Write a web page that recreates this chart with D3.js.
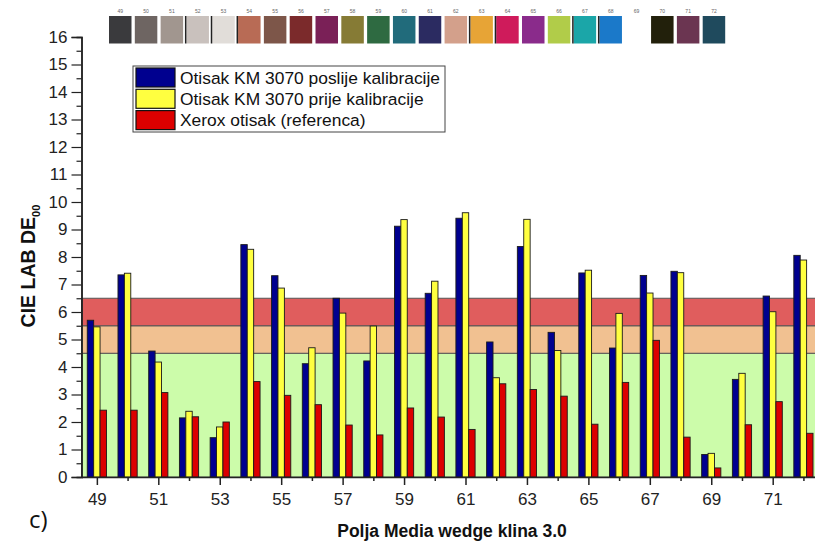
<!DOCTYPE html>
<html>
<head>
<meta charset="utf-8">
<script src="https://cdn.jsdelivr.net/npm/d3@7"></script>
<style>
  body { margin: 0; background: #fff; }
  svg { display: block; font-family: "Liberation Sans", Arial, sans-serif; }
  .axis path, .axis line { stroke: #222; }
  .axis text { font-size: 17px; fill: #222; }
</style>
</head>
<body>
<svg id="chart" width="815" height="544"></svg>
<script>

// fields of the Media wedge 3.0 strip shown on the x axis
const fields = d3.range(49, 73);

// measured colour differences per field, one array per print
const afterCalibration  = [5.7, 7.35, 4.58, 2.15, 1.43, 8.45, 7.32, 4.12, 6.5, 4.22, 9.12, 6.68,
                           9.41, 4.91, 8.38, 5.26, 7.42, 4.69, 7.33, 7.48, 0.82, 3.55, 6.58, 8.06];
const beforeCalibration = [5.46, 7.41, 4.18, 2.39, 1.82, 8.28, 6.87, 4.7, 5.96, 5.49, 9.36, 7.12,
                           9.61, 3.61, 9.37, 4.6, 7.52, 5.95, 6.69, 7.43, 0.86, 3.77, 6.01, 7.89];
const xeroxReference    = [2.43, 2.43, 3.07, 2.19, 2.0, 3.47, 2.97, 2.63, 1.89, 1.53, 2.51, 2.18,
                           1.73, 3.39, 3.18, 2.94, 1.92, 3.44, 4.97, 1.45, 0.33, 1.9, 2.74, 1.59];

const seriesNames = ["Otisak KM 3070 poslije kalibracije",
                     "Otisak KM 3070 prije kalibracije",
                     "Xerox otisak (referenca)"];
const seriesColors = ["#00008f", "#ffff40", "#dc0000"];

// tolerance bands drawn behind the bars (lower, upper DE00 limit)
const bandLimits = [[0, 4.5], [4.5, 5.5], [5.5, 6.5]];
const bandColors = ["#ccfcaa", "#f1c191", "#e05d5d"];

// printed swatch of each wedge field (69 is paper white)
const fieldColors = ["#3a3a3d", "#6e6562", "#a1968f", "#c9c1bd", "#e1ddd9", "#b86b55", "#7d5649",
                     "#7b2a2b", "#7a2057", "#867b35", "#2e6a41", "#216b7b", "#2b2b61", "#d3a08b",
                     "#e7a436", "#cf1b5b", "#8a2b8b", "#b1cc49", "#1ba6a8", "#1b79c9", null,
                     "#22200b", "#6b3551", "#1f4a5d"];
// fields whose swatch shows a dark seam on its left side in the scan
const seamFields = [52, 53, 54, 63, 64, 67, 68];

const yTicks = d3.range(0, 17);
const xTicks = d3.range(49, 73, 2);

let svg = d3.select("#chart");

let margin = { left: 81.5, top: 37, bottom: 477 };

// continuous field scale, the plot runs off the right edge like the source scan
let x = d3.scaleLinear()
    .domain([48.5, 72.5])
    .range([margin.left, margin.left + 24 * 30.72]);
let y = d3.scaleLinear()
    .domain([0, 16])
    .range([margin.bottom, margin.top]);

// three bars per field, centred on the tick
let inner = d3.scaleBand()
    .domain(d3.range(3))
    .range([-9.6, 9.6]);

let table = fields.map(function(f, i) {
    return { field: f, values: [afterCalibration[i], beforeCalibration[i], xeroxReference[i]] };
});

// tolerance bands
svg.append("g")
    .attr("class", "bands")
    .selectAll("rect")
    .data(bandLimits)
    .enter().append("rect")
        .attr("x", margin.left)
        .attr("width", 820 - margin.left)
        .attr("y", function(d) { return y(d[1]); })
        .attr("height", function(d) { return y(d[0]) - y(d[1]); })
        .attr("fill", function(d, i) { return bandColors[i]; })
        .attr("stroke", "#555")
        .attr("stroke-width", 1);

// bars
let groups = svg.append("g")
    .attr("class", "bars")
    .selectAll("g")
    .data(table)
    .enter().append("g")
        .attr("transform", function(d) { return "translate(" + x(d.field) + ",0)"; });

groups.selectAll("rect")
    .data(function(d) { return d.values; })
    .enter().append("rect")
        .attr("x", function(d, i) { return inner(i); })
        .attr("width", inner.bandwidth())
        .attr("y", function(d) { return y(d); })
        .attr("height", function(d) { return y(0) - y(d); })
        .attr("fill", function(d, i) { return seriesColors[i]; })
        .attr("stroke", "#1a1a1a")
        .attr("stroke-width", 0.9);

// y axis with half-step minor ticks
let yAxis = svg.append("g")
    .attr("class", "axis")
    .attr("transform", "translate(" + margin.left + ",0)");
yAxis.call(d3.axisLeft(y).tickValues(d3.range(0.5, 16, 1)).tickSize(5).tickFormat(""));
yAxis.call(function(g) {
    g.append("g").call(d3.axisLeft(y).tickValues(yTicks).tickSize(10).tickPadding(4).tickFormat(d3.format("d")));
});
yAxis.selectAll("path").attr("stroke-width", 1.5);

// x axis, labels on odd fields only
let xAxis = svg.append("g")
    .attr("class", "axis")
    .attr("transform", "translate(0," + margin.bottom + ")");
xAxis.call(d3.axisBottom(x).tickValues(d3.range(50, 73, 2)).tickSize(4).tickSizeOuter(0).tickFormat(""));
xAxis.append("g")
    .call(d3.axisBottom(x).tickValues(xTicks).tickSize(8).tickPadding(8).tickFormat(d3.format("d")))
    .select("path").remove();
xAxis.selectAll("path").attr("stroke-width", 1.5);
xAxis.selectAll("line").attr("stroke-width", 1.5);
yAxis.selectAll("line").attr("stroke-width", 1.2);

// axis titles
let ytitle = svg.append("text")
    .attr("transform", "translate(35,266) rotate(-90)")
    .attr("text-anchor", "middle")
    .style("font-size", "19.5px")
    .style("font-weight", "bold")
    .attr("fill", "#111");
ytitle.append("tspan").text("CIE LAB DE");
ytitle.append("tspan").attr("dy", 5).style("font-size", "11px").text("00");

svg.append("text")
    .attr("x", 452)
    .attr("y", 537)
    .attr("text-anchor", "middle")
    .style("font-size", "17.5px")
    .style("font-weight", "bold")
    .attr("fill", "#111")
    .text("Polja Media wedge klina 3.0");

svg.append("text")
    .attr("x", 29)
    .attr("y", 528)
    .style("font-family", "'Open Sans', sans-serif")
    .style("font-size", "24px")
    .attr("fill", "#111")
    .text("c)");

// legend
let legend = svg.append("g").attr("class", "legend");
legend.append("rect")
    .attr("x", 133).attr("y", 66)
    .attr("width", 312).attr("height", 66)
    .attr("fill", "#fff")
    .attr("stroke", "#444");
let rows = legend.selectAll("g")
    .data(seriesNames)
    .enter().append("g")
        .attr("transform", function(d, i) { return "translate(136," + (68 + i * 21.3) + ")"; });
rows.append("rect")
    .attr("width", 39).attr("height", 19)
    .attr("fill", function(d, i) { return seriesColors[i]; })
    .attr("stroke", "#111")
    .attr("stroke-width", 1.2);
rows.append("text")
    .attr("x", 44).attr("y", 15.5)
    .style("font-size", "17.4px")
    .attr("fill", "#111")
    .text(function(d) { return d; });

// strip of printed wedge swatches along the top
let swatchX = d3.scaleLinear()
    .domain([49, 72])
    .range([109, 702.7]);
let strip = svg.append("g")
    .attr("class", "strip")
    .selectAll("g")
    .data(fields)
    .enter().append("g")
        .attr("transform", function(d) { return "translate(" + swatchX(d) + ",0)"; });
strip.filter(function(d, i) { return fieldColors[i]; })
    .append("rect")
        .attr("y", 16)
        .attr("width", 22.5).attr("height", 27.5)
        .attr("fill", function(d, i) { return fieldColors[fields.indexOf(d)]; });
strip.filter(function(d) { return seamFields.indexOf(d) >= 0; })
    .append("rect")
        .attr("x", -1.5).attr("y", 16)
        .attr("width", 1.5).attr("height", 27.5)
        .attr("fill", "#222");
strip.append("text")
    .attr("x", 11.25).attr("y", 13)
    .attr("text-anchor", "middle")
    .style("font-size", "5px")
    .attr("fill", "#666")
    .text(function(d) { return d; });

</script>
</body>
</html>
